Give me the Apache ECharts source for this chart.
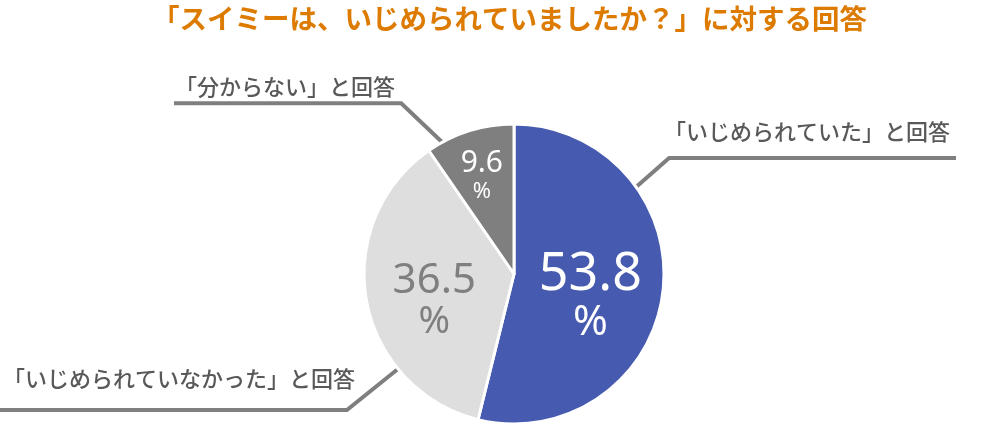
<!DOCTYPE html>
<html lang="ja">
<head>
<meta charset="UTF-8" />
<title>スイミーは、いじめられていましたか？</title>
<style>
  html, body { margin: 0; padding: 0; background: #fff; }
  #chart { width: 1000px; height: 429px; }
</style>
<script src="https://cdn.jsdelivr.net/npm/echarts@6/dist/echarts.min.js"></script>
</head>
<body>
<div id="chart"></div>
<script>
const titleText = '「スイミーは、いじめられていましたか？」に対する回答'
const names = ['「いじめられていた」と回答', '「いじめられていなかった」と回答', '「分からない」と回答']
const values = [53.8, 36.5, 9.6]
const colors = ['#465ab0', '#dedede', '#7f7f7f']

const chart = echarts.init(document.getElementById('chart'))
const center = [514, 274]
const radius = 150

// numbers inside the slices
const inner = [
  { color: '#fff', num: 52, pct: 42, numLh: 52, pctLh: 44, shift: [-1, 14] },
  { color: '#7f7f7f', num: 42, pct: 38, numLh: 42, pctLh: 40, shift: [-3, 13] },
  { color: '#fff', num: 30, pct: 22, numLh: 30, pctLh: 26, shift: [-9, -23] }
]
// callout lines: angle where the line leaves the pie, elbow, end of line
const callouts = [
  { angle: 35.5, elbow: [33, -29], end: 956, textX: 950, align: 'right', gap: 26 },
  { angle: 219.3, elbow: [-51, 41], end: 0, textX: 3, align: 'left', gap: 31 },
  { angle: 118.6, elbow: [-41, -39], end: 174, textX: 175, align: 'left', gap: 17 }
]

const rich = {}
inner.forEach((s, i) => {
  rich['n' + i] = { fontSize: s.num, lineHeight: s.numLh, color: s.color, fontFamily: 'Noto Sans' }
  rich['p' + i] = { fontSize: s.pct, lineHeight: s.pctLh, color: s.color, fontFamily: 'Noto Sans' }
})

const sliceData = names.map((n, i) => ({ name: n, value: values[i], itemStyle: { color: colors[i] } }))

const options = {
  animation: false,
  title: {
    text: titleText,
    left: 147,
    top: 0,
    textStyle: {
      fontFamily: 'Noto Sans CJK JP',
      fontSize: 27.5,
      fontWeight: 'bold',
      color: '#dd7a00'
    }
  },
  series: [
    {
      type: 'pie',
      center: center,
      radius: radius,
      startAngle: 90,
      silent: true,
      avoidLabelOverlap: false,
      itemStyle: { borderColor: '#fff', borderWidth: 3 },
      label: {
        position: 'inside',
        formatter: p => '{n' + p.dataIndex + '|' + p.value + '}\n{p' + p.dataIndex + '|%}',
        rich: rich
      },
      labelLine: { show: false },
      labelLayout: p => ({ dx: inner[p.dataIndex].shift[0], dy: inner[p.dataIndex].shift[1] }),
      data: sliceData
    },
    {
      // transparent copy, only for the callout labels
      type: 'pie',
      center: center,
      radius: radius,
      startAngle: 90,
      silent: true,
      avoidLabelOverlap: false,
      itemStyle: { color: 'rgba(0,0,0,0)', borderWidth: 0 },
      label: {
        position: 'outside',
        formatter: '{b}',
        fontFamily: 'Noto Sans CJK JP',
        fontSize: 22,
        fontWeight: 500,
        color: '#595959'
      },
      labelLine: {
        show: true,
        length: 20,
        length2: 20,
        lineStyle: { color: '#7f7f7f', width: 4 }
      },
      labelLayout: p => {
        const c = callouts[p.dataIndex]
        const a = c.angle * Math.PI / 180
        const p0 = [center[0] + radius * Math.cos(a), center[1] - radius * Math.sin(a)]
        const p1 = [p0[0] + c.elbow[0], p0[1] + c.elbow[1]]
        const p2 = [c.end, p1[1]]
        return {
          x: c.textX,
          y: p1[1] - c.gap,
          align: c.align,
          verticalAlign: 'middle',
          labelLinePoints: [p0, p1, p2]
        }
      },
      data: names.map((n, i) => ({ name: n, value: values[i] }))
    }
  ]
}
chart.setOption(options)
</script>
</body>
</html>
